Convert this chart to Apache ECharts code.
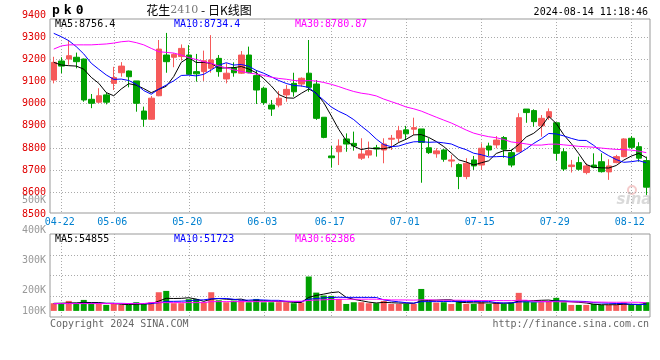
<!DOCTYPE html>
<html><head><meta charset="utf-8">
<script src="https://cdn.jsdelivr.net/npm/echarts@6/dist/echarts.min.js"></script>
<style>html,body{margin:0;padding:0;background:#fff}#c{width:660px;height:360px}</style>
</head><body><div id="c"></div>
<script>
const dates = ['04-19','04-22','04-23','04-24','04-25','04-26','04-29','04-30',
'05-06','05-07','05-08','05-09','05-10','05-13','05-14','05-15','05-16','05-17',
'05-20','05-21','05-22','05-23','05-24','05-27','05-28','05-29','05-30','05-31',
'06-03','06-04','06-05','06-06','06-07','06-11','06-12','06-13','06-14',
'06-17','06-18','06-19','06-20','06-21','06-24','06-25','06-26','06-27','06-28',
'07-01','07-02','07-03','07-04','07-05','07-08','07-09','07-10','07-11','07-12',
'07-15','07-16','07-17','07-18','07-19','07-22','07-23','07-24','07-25','07-26',
'07-29','07-30','07-31','08-01','08-02','08-05','08-06','08-07','08-08','08-09',
'08-12','08-13','08-14'];
const opens  = [9107,9193,9202,9210,9202,9020,9007,9040,9092,9140,9148,9103,8967,8930,9036,9220,9210,9213,9220,9145,
9145,9160,9205,9112,9163,9138,9220,9127,9070,8994,8994,9040,9092,9089,9138,9089,8939,8764,8783,8841,
8821,8754,8768,8801,8791,8840,8844,8882,8885,8886,8801,8774,8791,8741,8725,8671,8746,8723,8809,8814,
8847,8779,8783,8976,8969,8900,8939,8914,8783,8716,8734,8689,8723,8738,8692,8734,8761,8844,8806,8743];
const closes = [9187,9170,9217,9190,9017,9002,9036,9007,9118,9170,9122,9002,8930,9025,9247,9190,9223,9250,9133,9135,
9194,9198,9145,9138,9140,9220,9140,9062,9005,8976,9025,9065,9054,9115,9074,8934,8848,8756,8809,8818,
8809,8773,8788,8796,8818,8844,8878,8864,8892,8825,8779,8787,8749,8746,8671,8731,8719,8799,8791,8836,
8794,8723,8937,8960,8919,8934,8964,8776,8705,8723,8704,8719,8713,8693,8719,8761,8841,8803,8754,8623];
const lows   = [9092,9138,9176,9160,9009,8980,9003,8997,9062,9122,9074,8964,8896,8928,9034,9140,9165,9195,9130,9100,
9103,9140,9122,9092,9122,9135,9138,8999,8995,8945,8984,9009,9032,9077,9054,8927,8844,8711,8723,8783,
8788,8746,8754,8761,8731,8791,8824,8837,8859,8643,8773,8756,8738,8713,8614,8659,8701,8701,8764,8799,
8756,8713,8783,8914,8896,8851,8927,8743,8696,8689,8698,8681,8708,8689,8656,8731,8758,8796,8738,8588];
const highs  = [9212,9210,9288,9231,9204,9044,9070,9050,9167,9188,9150,9103,8987,9035,9288,9320,9228,9268,9265,9225,
9240,9310,9220,9183,9187,9238,9258,9152,9077,9017,9058,9085,9140,9119,9288,9107,8939,8809,8839,8866,
8874,8844,8829,8814,8844,8859,8900,8900,8937,8886,8844,8799,8795,8769,8731,8754,8764,8821,8824,8854,
8854,8794,8957,8976,8975,8949,8979,8914,8799,8746,8761,8731,8776,8776,8749,8769,8844,8854,8826,8761];
const volumes = [63000,57000,82000,57000,90000,57000,57000,49000,57000,49000,49000,71000,57000,71000,153000,164000,63000,63000,96000,98000,
71000,153000,87000,71000,85000,87000,71000,98000,71000,71000,71000,71000,63000,68000,282000,150000,126000,123000,98000,57000,
71000,71000,63000,63000,82000,57000,57000,57000,57000,180000,77000,68000,71000,57000,87000,57000,57000,71000,57000,71000,
57000,68000,148000,77000,71000,71000,77000,107000,71000,49000,49000,49000,57000,49000,49000,49000,71000,49000,49000,71000];
// moving-average values before a full window exists
const ma5Head  = [9187,9175,9172,9170];
const ma10Head = [9318,9303,9285,9258,9225,9183,9156,9130,9110];
const ma30Head = [9247,9261,9266,9266,9266,9266,9268,9270,9274,9280,9283,9276,9266,9250,9235,9232,9229,9220,9208,9200,9190,9182,9171,9162,9153,9146,9139,9134,9128];
const vma5Head  = [62000,63000,65000,66000];
const vma10Head = [60000,60000,61000,61000,62000,62000,62000,62000,62000];
const vma30Head = [60000,60000,60000,60000,60000,60000,60000,60000,60000,60000,60000,60000,60000,68000,68000,68000,68000,68000,68000,68000,68000,76000,76000,76000,76000,76000,76000,76000,76000];
const xLabelDates = ['04-22','05-06','05-20','06-03','06-17','07-01','07-15','07-29','08-12'];
const volTickLabels = {100000:'100K',200000:'200K',300000:'300K',400000:'400K',500000:'500K'};
const priceMin = 8500, priceMax = 9400, priceStep = 100;

function movingAvg(vals, n, head, digits){
  return vals.map((v,i)=>{
    if(i < n-1) return head[i];
    let s=0; for(let k=i-n+1;k<=i;k++) s+=vals[k];
    return +(s/n).toFixed(digits);
  });
}
const ma5 = movingAvg(closes,5,ma5Head,2), ma10 = movingAvg(closes,10,ma10Head,2), ma30 = movingAvg(closes,30,ma30Head,2);
const vma5 = movingAvg(volumes,5,vma5Head,0), vma10 = movingAvg(volumes,10,vma10Head,0), vma30 = movingAvg(volumes,30,vma30Head,0);
const kdata = dates.map((d,i)=>[opens[i],closes[i],lows[i],highs[i]]);
const UP='#f65a5a', DOWN='#00a000';
const mono='"DejaVu Sans Mono", monospace';
const isLabel = (idx,val)=> xLabelDates.indexOf(val) >= 0;
const dotted = {color:'#aaaaaa', width:1, type:[1,2]};

const L=50, W=600;
const option = {
  animation:false,
  backgroundColor:'#fff',
  grid:[
    {left:L, width:W, top:15.2, height:199.2, show:false},
    {left:L, width:W, top:19, height:194, show:true, borderColor:'#999', borderWidth:1, backgroundColor:'transparent'},
    {left:L, width:W, top:234, height:83, show:true, borderColor:'#999', borderWidth:1, backgroundColor:'transparent'},
    {left:L, width:W, top:200, height:120, show:false}
  ],
  xAxis:[
    {gridIndex:0, type:'category', data:dates, boundaryGap:true, show:false},
    {gridIndex:1, type:'category', data:dates, boundaryGap:true,
      axisLine:{show:false}, axisTick:{show:false},
      axisLabel:{interval:isLabel, color:'#0080d0', fontFamily:mono, fontSize:10, margin:4, padding:[0,3,0,0]},
      splitLine:{show:true, interval:isLabel, alignWithLabel:true, lineStyle:dotted}},
    {gridIndex:2, type:'category', data:dates, boundaryGap:true,
      axisLine:{show:false}, axisTick:{show:false}, axisLabel:{show:false},
      splitLine:{show:true, interval:isLabel, alignWithLabel:true, lineStyle:dotted}},
    {gridIndex:3, type:'category', data:dates, show:false}
  ],
  yAxis:[
    {gridIndex:0, type:'value', min:priceMin, max:priceMax, interval:priceStep,
      axisLine:{show:false}, axisTick:{show:false},
      axisLabel:{color:'#e00000', fontFamily:mono, fontSize:10, margin:4, formatter:v=>String(v)},
      splitLine:{show:true, showMinLine:false, showMaxLine:false, lineStyle:dotted}},
    {gridIndex:1, type:'value', min:0, max:1, show:false},
    {gridIndex:2, type:'value', min:-50000, max:630600, show:false},
    {gridIndex:2, type:'value', min:0, max:4, interval:1, position:'right',
      axisLine:{show:false}, axisTick:{show:false}, axisLabel:{show:false},
      splitLine:{show:true, showMinLine:false, showMaxLine:false, lineStyle:dotted}},
    {gridIndex:3, type:'value', min:100000, max:500000, interval:100000,
      axisLine:{show:false}, axisTick:{show:false}, splitLine:{show:false},
      axisLabel:{margin:4, formatter:v=> v===100000 ? '{u|'+volTickLabels[v]+'}' : '{n|'+volTickLabels[v]+'}',
        rich:{n:{color:'#999', fontFamily:mono, fontSize:10}, u:{color:'#999', fontFamily:mono, fontSize:10, padding:[0,0,18,0]}}}}
  ],
  series:[
    {type:'candlestick', xAxisIndex:0, yAxisIndex:0, data:kdata, barWidth:6,
      itemStyle:{color:UP, color0:DOWN, borderColor:UP, borderColor0:DOWN, borderWidth:1}},
    {type:'line', xAxisIndex:0, yAxisIndex:0, data:ma5, symbol:'none', lineStyle:{color:'#000', width:1}, z:3},
    {type:'line', xAxisIndex:0, yAxisIndex:0, data:ma10, symbol:'none', lineStyle:{color:'#0000ff', width:1}, z:3},
    {type:'line', xAxisIndex:0, yAxisIndex:0, data:ma30, symbol:'none', lineStyle:{color:'#ff00ff', width:1}, z:3},
    {type:'bar', xAxisIndex:2, yAxisIndex:2, barWidth:6,
      data:volumes.map((v,i)=>({value:v, itemStyle:{color: closes[i] >= opens[i] ? UP : DOWN}}))},
    {type:'line', xAxisIndex:2, yAxisIndex:2, data:vma5, symbol:'none', lineStyle:{color:'#000', width:1}, z:3},
    {type:'line', xAxisIndex:2, yAxisIndex:2, data:vma10, symbol:'none', lineStyle:{color:'#0000ff', width:1}, z:3},
    {type:'line', xAxisIndex:2, yAxisIndex:2, data:vma30, symbol:'none', lineStyle:{color:'#ff00ff', width:1}, z:3}
  ],
  graphic:[
    {type:'text', x:50, y:11, style:{text:'{a|p}{a|k}{a|0}', verticalAlign:'middle', textVerticalAlign:'middle',
      rich:{a:{fontFamily:mono, fontWeight:'bold', fontSize:13, fill:'#000', padding:[0,2,0,2]}}}},
    {type:'text', x:199, y:10, style:{text:'{a|花生}{b|2410}{a| - 日K线图}', align:'center', textAlign:'center', verticalAlign:'middle', textVerticalAlign:'middle',
      rich:{a:{fontFamily:'"Noto Sans CJK SC"', fontSize:12, fill:'#000'}, b:{fontFamily:'"DejaVu Serif"', fontSize:11, fill:'#777'}}}},
    {type:'text', x:648, y:12.5, style:{text:'2024-08-14 11:18:46', font:'10px '+mono, fill:'#000', align:'right', textAlign:'right', verticalAlign:'middle', textVerticalAlign:'middle'}},
    {type:'text', x:55, y:24, style:{text:'MA5:8756.4', font:'10px '+mono, fill:'#000', verticalAlign:'middle', textVerticalAlign:'middle'}},
    {type:'text', x:174, y:24, style:{text:'MA10:8734.4', font:'10px '+mono, fill:'#0000ff', verticalAlign:'middle', textVerticalAlign:'middle'}},
    {type:'text', x:295, y:24, style:{text:'MA30:8780.87', font:'10px '+mono, fill:'#ff00ff', verticalAlign:'middle', textVerticalAlign:'middle'}},
    {type:'text', x:55, y:239, style:{text:'MA5:54855', font:'10px '+mono, fill:'#000', verticalAlign:'middle', textVerticalAlign:'middle'}},
    {type:'text', x:174, y:239, style:{text:'MA10:51723', font:'10px '+mono, fill:'#0000ff', verticalAlign:'middle', textVerticalAlign:'middle'}},
    {type:'text', x:295, y:239, style:{text:'MA30:62386', font:'10px '+mono, fill:'#ff00ff', verticalAlign:'middle', textVerticalAlign:'middle'}},
    {type:'text', x:50, y:324, style:{text:'Copyright 2024 SINA.COM', font:'10px '+mono, fill:'#666', verticalAlign:'middle', textVerticalAlign:'middle'}},
    {type:'text', x:649, y:324, style:{text:'http://finance.sina.com.cn', font:'10px '+mono, fill:'#666', align:'right', textAlign:'right', verticalAlign:'middle', textVerticalAlign:'middle'}},
    {type:'circle', shape:{cx:632, cy:190, r:4}, style:{fill:'none', stroke:'rgba(230,140,140,0.45)', lineWidth:2}},
    {type:'text', x:634, y:200, style:{text:'sina', font:'italic bold 15px "DejaVu Sans"', fill:'rgba(170,170,170,0.45)', align:'center', textAlign:'center', verticalAlign:'middle', textVerticalAlign:'middle'}}
  ]
};
echarts.init(document.getElementById('c'), null, {renderer:'canvas'}).setOption(option);
</script></body></html>
